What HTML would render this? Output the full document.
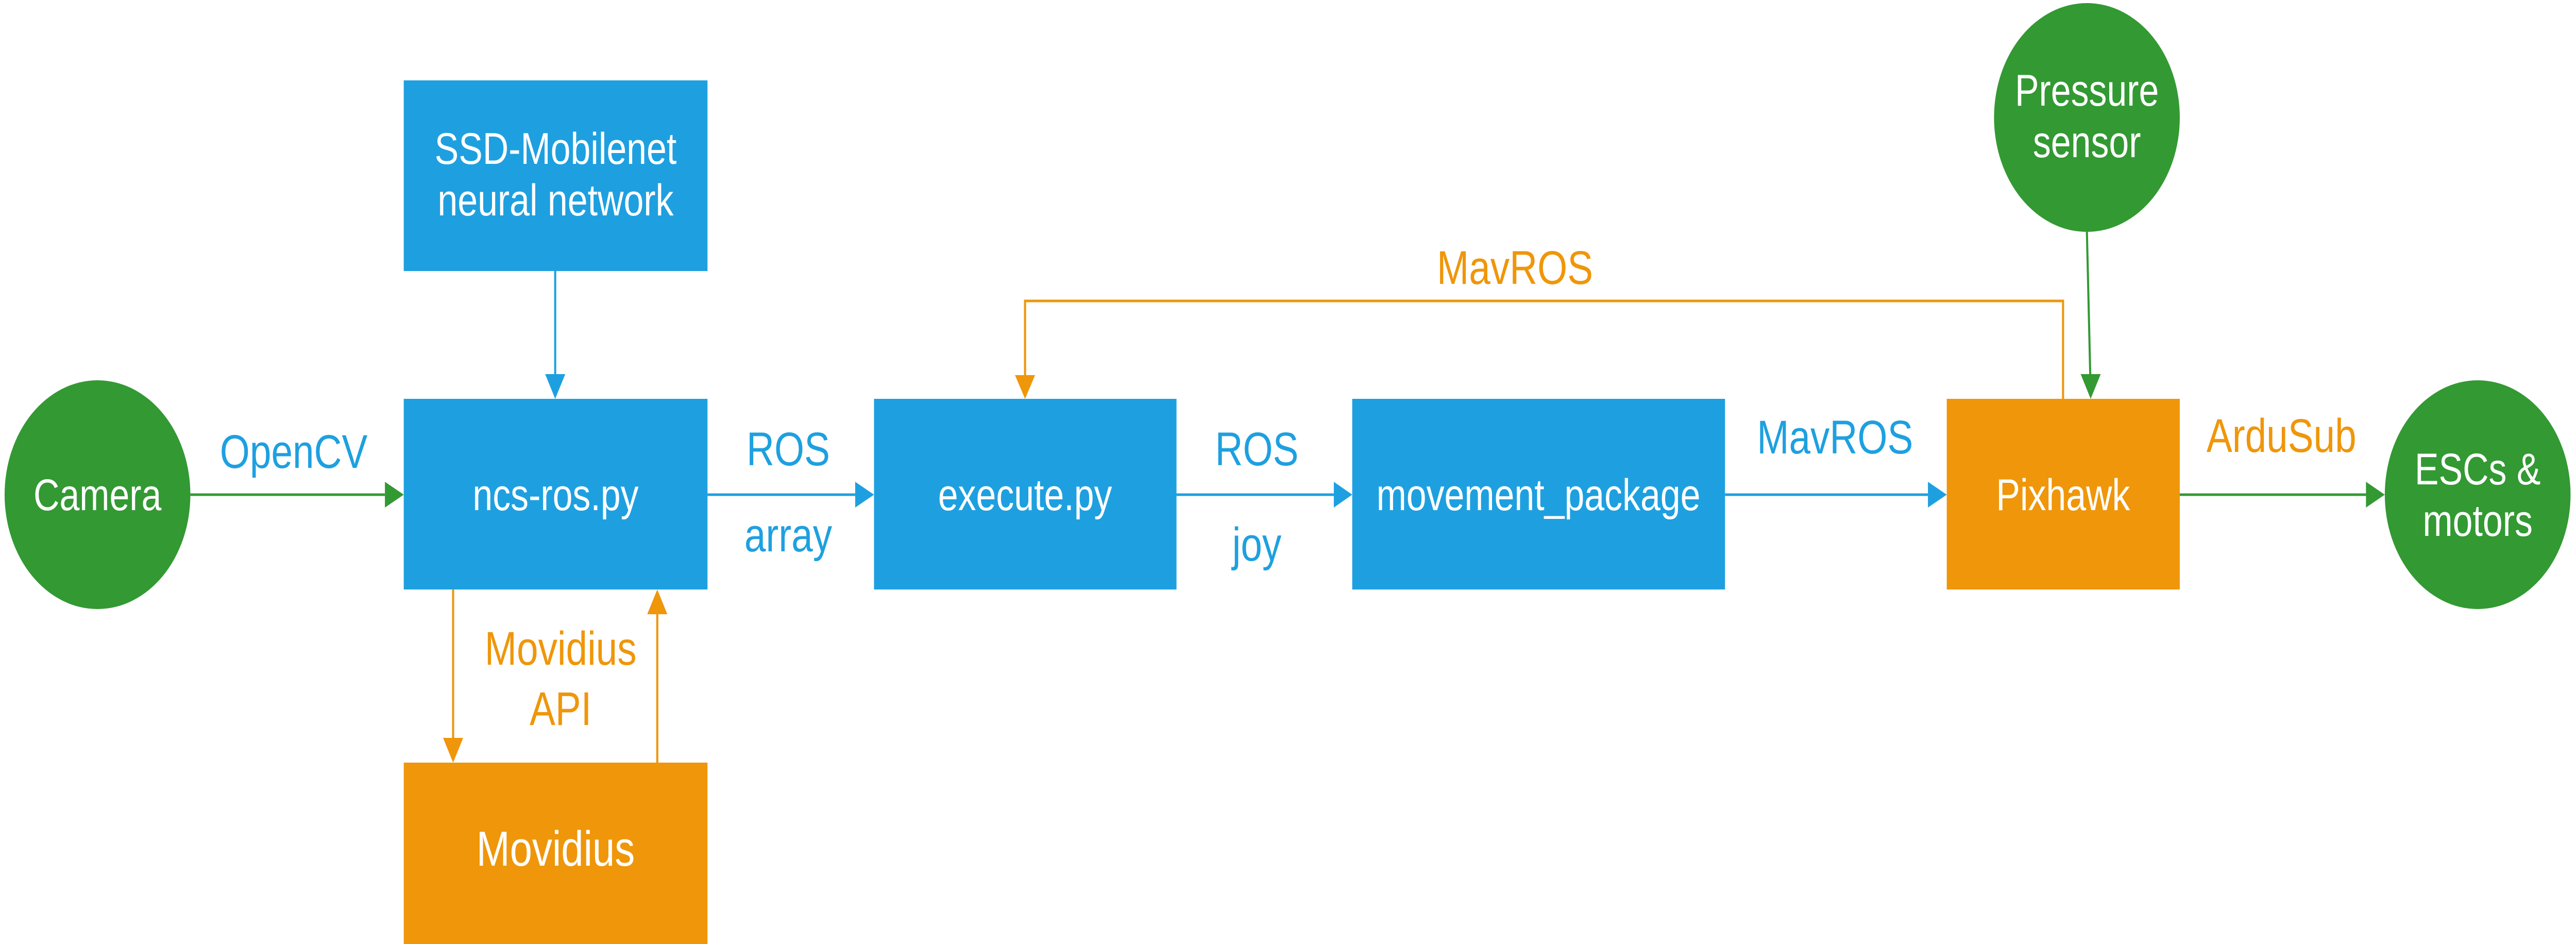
<!DOCTYPE html>
<html><head><meta charset="utf-8"><style>
html,body{margin:0;padding:0;background:#fff;width:100%;height:100%;overflow:hidden}
svg{display:block;width:100vw;height:100vh}
text{font-family:"Liberation Sans","DejaVu Sans",sans-serif}
</style></head><body>
<svg viewBox="0 0 6157 1832" preserveAspectRatio="none" xmlns="http://www.w3.org/2000/svg">
<g fill="#1ea0e0">
<rect x="965" y="156" width="726" height="370"/>
<rect x="965" y="774" width="726" height="370"/>
<rect x="2089" y="774" width="723" height="370"/>
<rect x="3232" y="774" width="891" height="370"/>
</g>
<g fill="#ef960a">
<rect x="965" y="1480" width="726" height="352"/>
<rect x="4653" y="774" width="557" height="370"/>
</g>
<g fill="#339933">
<circle cx="233" cy="960" r="222"/>
<circle cx="4988" cy="228" r="222"/>
<circle cx="5922" cy="960" r="222"/>
</g>
<g stroke-width="5" fill="none">
<line x1="455" y1="960" x2="920" y2="960" stroke="#339933"/>
<line x1="1327" y1="526" x2="1327" y2="728" stroke="#1ea0e0"/>
<line x1="1691" y1="960" x2="2044" y2="960" stroke="#1ea0e0"/>
<line x1="2812" y1="960" x2="3188" y2="960" stroke="#1ea0e0"/>
<line x1="4123" y1="960" x2="4608" y2="960" stroke="#1ea0e0"/>
<line x1="5210" y1="960" x2="5655" y2="960" stroke="#339933"/>
<line x1="4988" y1="450" x2="4996" y2="728" stroke="#339933"/>
<line x1="1083" y1="1144" x2="1083" y2="1435" stroke="#ef960a"/>
<line x1="1571" y1="1480" x2="1571" y2="1190" stroke="#ef960a"/>
<polyline points="4931,774 4931,584 2450,584 2450,730" stroke="#ef960a"/>
</g>
<polygon points="920,935 965,960 920,985" fill="#339933"/>
<polygon points="1303,726 1327,774 1351,726" fill="#1ea0e0"/>
<polygon points="2044,935 2089,960 2044,985" fill="#1ea0e0"/>
<polygon points="3188,935 3232,960 3188,985" fill="#1ea0e0"/>
<polygon points="4608,935 4653,960 4608,985" fill="#1ea0e0"/>
<polygon points="5655,935 5700,960 5655,985" fill="#339933"/>
<polygon points="4973,726 4997,774 5021,726" fill="#339933"/>
<polygon points="1059,1432 1083,1480 1107,1432" fill="#ef960a"/>
<polygon points="1547,1192 1571,1144 1595,1192" fill="#ef960a"/>
<polygon points="2426,728 2450,774 2474,728" fill="#ef960a"/>
<g fill="#fff" font-size="86" text-anchor="middle">
<text x="233" y="990">Camera</text>
<text x="1328" y="318">SSD-Mobilenet</text>
<text x="1328" y="418">neural network</text>
<text x="1328" y="990">ncs-ros.py</text>
<text x="2450" y="990">execute.py</text>
<text x="3677" y="990">movement_package</text>
<text x="4931" y="990">Pixhawk</text>
<text x="1328" y="1680" font-size="96">Movidius</text>
<text x="4988" y="205">Pressure</text>
<text x="4988" y="305">sensor</text>
<text x="5922" y="940">ESCs &amp;</text>
<text x="5922" y="1040">motors</text>
</g>
<g font-size="92" text-anchor="middle">
<text x="702" y="908" fill="#1ea0e0">OpenCV</text>
<text x="1884" y="903" fill="#1ea0e0">ROS</text>
<text x="1884" y="1070" fill="#1ea0e0">array</text>
<text x="3004" y="903" fill="#1ea0e0">ROS</text>
<text x="3004" y="1088" fill="#1ea0e0">joy</text>
<text x="4386" y="880" fill="#1ea0e0">MavROS</text>
<text x="3621" y="551" fill="#ef960a">MavROS</text>
<text x="1340" y="1290" fill="#ef960a">Movidius</text>
<text x="1340" y="1407" fill="#ef960a">API</text>
<text x="5453" y="877" fill="#ef960a">ArduSub</text>
</g>
</svg>
</body></html>
